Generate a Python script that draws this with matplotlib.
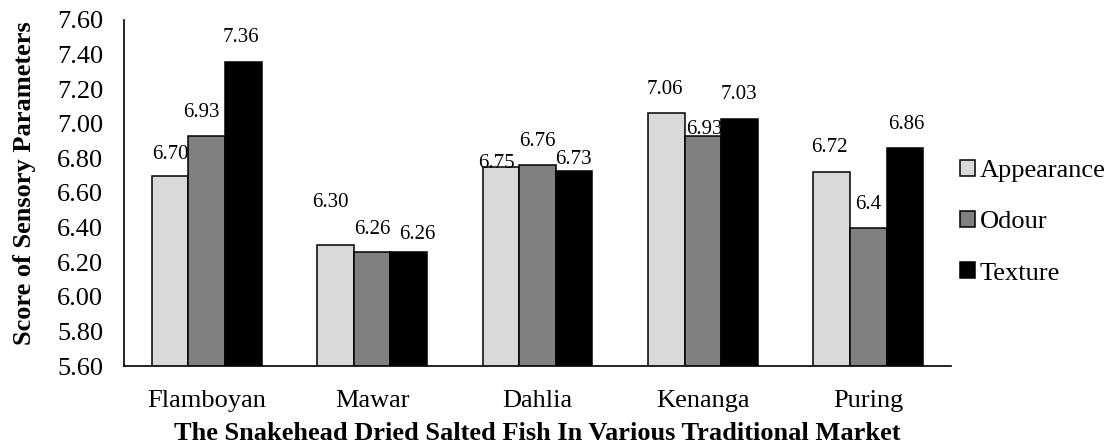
import matplotlib
matplotlib.use("Agg")
import matplotlib.pyplot as plt
import numpy as np

plt.rcParams['font.family'] = ['Liberation Serif', 'DejaVu Serif']

markets = ["Flamboyan", "Mawar", "Dahlia", "Kenanga", "Puring"]
appearance = [6.70, 6.30, 6.75, 7.06, 6.72]
odour = [6.93, 6.26, 6.76, 6.93, 6.40]
texture = [7.36, 6.26, 6.73, 7.03, 6.86]
appearance_lbl = ["6.70", "6.30", "6.75", "7.06", "6.72"]
odour_lbl = ["6.93", "6.26", "6.76", "6.93", "6.4"]
texture_lbl = ["7.36", "6.26", "6.73", "7.03", "6.86"]
yticks = [5.60, 5.80, 6.00, 6.20, 6.40, 6.60, 6.80, 7.00, 7.20, 7.40, 7.60]

# label nudges (dx, dy) in pixels, relative to bar top centre
app_nudge = [(0, 21), (-5, 42), (-5, 4), (-1, 24), (-2, 25)]
odo_nudge = [(-5, 23), (0, 22), (0, 24), (1, 6), (0, 23)]
tex_nudge = [(-2, 24), (9, 17), (-1, 11), (-1, 24), (1, 24)]

series = [
    ("Appearance", appearance, appearance_lbl, app_nudge, "#d9d9d9"),
    ("Odour", odour, odour_lbl, odo_nudge, "#808080"),
    ("Texture", texture, texture_lbl, tex_nudge, "#000000"),
]

fig = plt.figure(figsize=(11.09, 4.48), dpi=100)
ax = fig.add_axes([124 / 1109, 82 / 448, 827 / 1109, 346 / 448])

x = np.arange(len(markets))
w = 0.221
px = 0.72  # points per pixel

for i, (name, vals, lbls, nudge, col) in enumerate(series):
    pos = x + (i - 1) * w
    ax.bar(pos, vals, width=w, bottom=0, color=col, edgecolor="black",
           linewidth=1.1, label=name)
    for xp, v, t, (dx, dy) in zip(pos, vals, lbls, nudge):
        ax.annotate(t, (xp, v), xytext=(dx * px, dy * px),
                    textcoords="offset points", ha="center", va="center",
                    fontsize=15)

ax.set_ylim(5.6, 7.6)
ax.set_xlim(-0.5, len(markets) - 0.5)
ax.set_yticks(yticks)
ax.set_yticklabels([f"{t:.2f}" for t in yticks])
ax.set_xticks(x)
ax.set_xticklabels(markets)
ax.tick_params(axis="both", length=0, labelsize=19)
ax.tick_params(axis="y", pad=15)
ax.tick_params(axis="x", pad=17)

for s in ["top", "right"]:
    ax.spines[s].set_visible(False)
for s in ["left", "bottom"]:
    ax.spines[s].set_linewidth(1.2)

fig.text(25 / 1109, 1 - 183 / 448, "Score of Sensory Parameters", rotation=90,
         ha="center", va="center", fontsize=19, fontweight="bold")
fig.text(537 / 1109, 1 - 433 / 448,
         "The Snakehead Dried Salted Fish In Various Traditional Market",
         ha="center", va="center", fontsize=19, fontweight="bold")

ax.legend(loc="center left", bbox_to_anchor=((947 - 124) / 827, 0.416),
          frameon=False, fontsize=19, handlelength=0.55, handleheight=0.55,
          handletextpad=0.2, labelspacing=1.1, borderpad=0)

fig.savefig("out.png", dpi=100)
